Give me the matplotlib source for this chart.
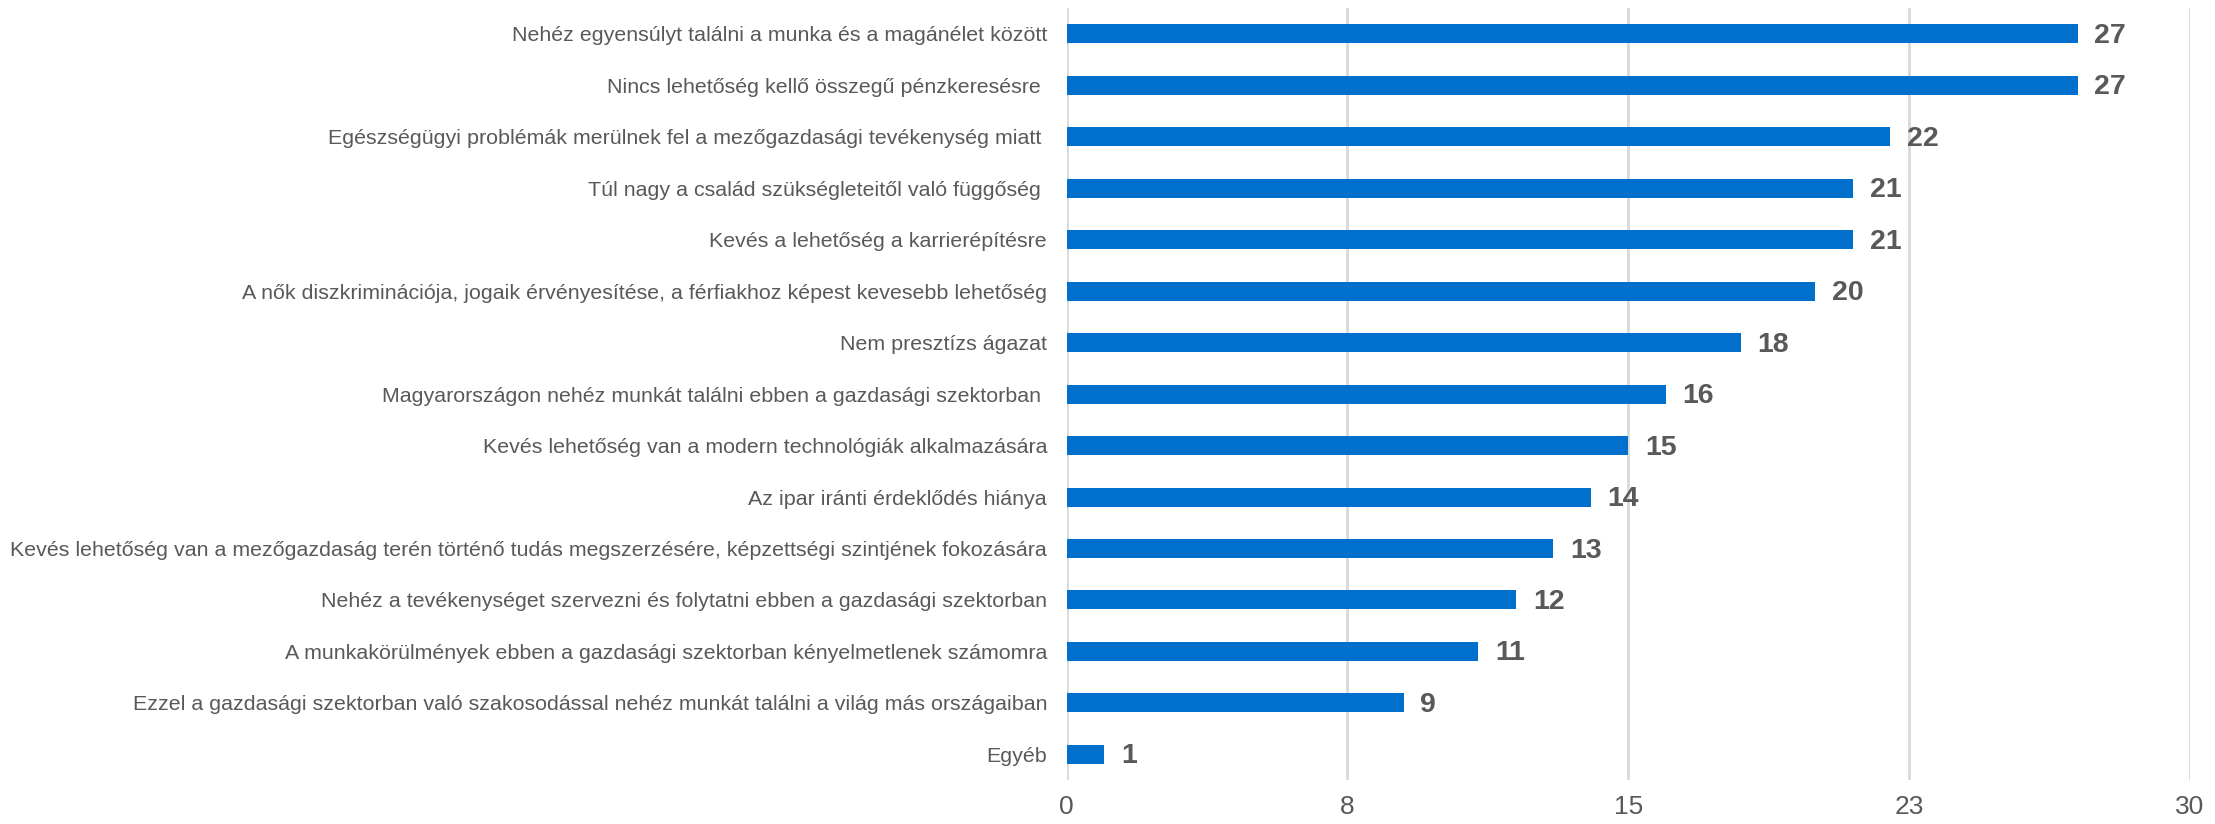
import matplotlib
matplotlib.use("Agg")
import matplotlib.pyplot as plt

categories = [
    "Nehéz egyensúlyt találni a munka és a magánélet között",
    "Nincs lehetőség kellő összegű pénzkeresésre ",
    "Egészségügyi problémák merülnek fel a mezőgazdasági tevékenység miatt ",
    "Túl nagy a család szükségleteitől való függőség ",
    "Kevés a lehetőség a karrierépítésre",
    "A nők diszkriminációja, jogaik érvényesítése, a férfiakhoz képest kevesebb lehetőség",
    "Nem presztízs ágazat",
    "Magyarországon nehéz munkát találni ebben a gazdasági szektorban ",
    "Kevés lehetőség van a modern technológiák alkalmazására",
    "Az ipar iránti érdeklődés hiánya",
    "Kevés lehetőség van a mezőgazdaság terén történő tudás megszerzésére, képzettségi szintjének fokozására",
    "Nehéz a tevékenységet szervezni és folytatni ebben a gazdasági szektorban",
    "A munkakörülmények ebben a gazdasági szektorban kényelmetlenek számomra",
    "Ezzel a gazdasági szektorban való szakosodással nehéz munkát találni a világ más országaiban",
    "Egyéb",
]
values = [27, 27, 22, 21, 21, 20, 18, 16, 15, 14, 13, 12, 11, 9, 1]
xticks = [0, 7.5, 15, 22.5, 30]
xtick_labels = ["0", "8", "15", "23", "30"]

plt.rcParams['font.family'] = ['Liberation Sans', 'DejaVu Sans']

fig = plt.figure(figsize=(22.15, 8.24), dpi=100)
ax = fig.add_axes([0.4815, 0.0534, 0.9887 - 0.4815, 0.990 - 0.0534])

ypos = list(range(len(categories)))[::-1]
bar_color = "#0070CC"
ax.barh(ypos, values, height=0.37, color=bar_color, zorder=3)

for y, v in zip(ypos, values):
    ax.text(v + 0.45, y - 0.04, str(v), va="center", ha="left", fontsize=20.5,
            fontweight="bold", color="#595959")

ax.set_xlim(0, 30)
ax.set_ylim(-0.5, len(categories) - 0.5)
ax.set_yticks(ypos)
ax.set_yticklabels(categories, fontsize=15.4, color="#595959")
ax.set_xticks(xticks)
ax.set_xticklabels(xtick_labels, fontsize=19, color="#595959")
ax.tick_params(axis="y", length=0, pad=14)
ax.tick_params(axis="x", length=0, pad=11)

ax.grid(axis="x", color="#D9D9D9", linewidth=2, zorder=0)
for s in ["top", "right", "bottom", "left"]:
    ax.spines[s].set_visible(False)

fig.savefig("out.png", dpi=100)
